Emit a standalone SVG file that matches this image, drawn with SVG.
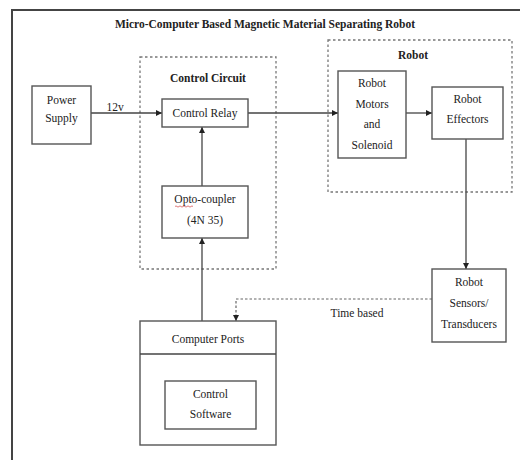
<svg xmlns="http://www.w3.org/2000/svg" width="520" height="460" viewBox="0 0 520 460" font-family="'Liberation Serif', 'Times New Roman', 'DejaVu Serif', serif">
  <style>
    .box { fill: #ffffff; stroke: #555555; stroke-width: 1.4; }
    .group { fill: none; stroke: #777777; stroke-width: 1.3; stroke-dasharray: 2.5 2.5; }
    .wire { fill: none; stroke: #444444; stroke-width: 1.3; }
    .dash { fill: none; stroke: #666666; stroke-width: 1.2; stroke-dasharray: 2.5 2; }
    text { font-family: 'Liberation Serif', 'Times New Roman', 'DejaVu Serif', serif; font-size: 11.5px; fill: #222222; text-anchor: middle; }
    .bold { font-weight: bold; }
  </style>
  <defs>
    <marker id="arrow" viewBox="0 0 10 10" refX="10" refY="5" markerWidth="6" markerHeight="6" orient="auto" markerUnits="userSpaceOnUse">
      <path d="M0,0 L10,5 L0,10 Z" fill="#222222"/>
    </marker>
  </defs>

  <rect width="520" height="460" fill="#ffffff"/>

  <!-- outer frame (top and left edges) -->
  <path d="M12,460 L12,10 L520,10" fill="none" stroke="#444444" stroke-width="2"/>
  <text class="bold" x="265" y="28">Micro-Computer Based Magnetic Material Separating Robot</text>

  <!-- dashed groupings -->
  <g id="control-circuit">
    <rect class="group" x="140" y="57" width="136" height="212"/>
    <text class="bold" x="208" y="82">Control Circuit</text>
  </g>
  <g id="robot">
    <rect class="group" x="328" y="40" width="184" height="152"/>
    <text class="bold" x="413" y="59">Robot</text>
  </g>

  <!-- connectors -->
  <g id="connectors">
    <line class="wire" x1="91" y1="113" x2="162" y2="113" marker-end="url(#arrow)"/>
    <text x="115" y="111">12v</text>
    <line class="wire" x1="248" y1="113" x2="338" y2="113" marker-end="url(#arrow)"/>
    <line class="wire" x1="406" y1="113" x2="432" y2="113" marker-end="url(#arrow)"/>
    <line class="wire" x1="466" y1="139" x2="466" y2="269" marker-end="url(#arrow)"/>
    <line class="wire" x1="202" y1="186" x2="202" y2="127" marker-end="url(#arrow)"/>
    <line class="wire" x1="202" y1="321" x2="202" y2="238" marker-end="url(#arrow)"/>
    <path class="dash" d="M432,299 L236,299 L236,321" marker-end="url(#arrow)"/>
    <text x="357" y="317">Time based</text>
  </g>

  <g id="power-supply">
    <rect class="box" x="32" y="86" width="59" height="58"/>
    <text x="61.5" y="104">Power</text>
    <text x="61.5" y="122">Supply</text>
  </g>

  <g id="control-relay">
    <rect class="box" x="162" y="99" width="86" height="28"/>
    <text x="205" y="117">Control Relay</text>
  </g>

  <g id="opto-coupler">
    <rect class="box" x="162" y="186" width="86" height="52"/>
    <text x="205" y="203">Opto-coupler</text>
    <path d="M175,206.5 q1,-1.2 2,0 t2,0 t2,0 t2,0 t2,0 t2,0 t2,0 t2,0 t2,0" fill="none" stroke="#d04040" stroke-width="0.7"/>
    <text x="205" y="224">(4N 35)</text>
  </g>

  <g id="robot-motors">
    <rect class="box" x="338" y="71" width="68" height="87"/>
    <text x="372" y="87">Robot</text>
    <text x="372" y="108">Motors</text>
    <text x="372" y="128">and</text>
    <text x="372" y="149">Solenoid</text>
  </g>

  <g id="robot-effectors">
    <rect class="box" x="432" y="87" width="71" height="52"/>
    <text x="467.5" y="103">Robot</text>
    <text x="467.5" y="123">Effectors</text>
  </g>

  <g id="robot-sensors">
    <rect class="box" x="432" y="269" width="74" height="73"/>
    <text x="469" y="286">Robot</text>
    <text x="469" y="307">Sensors/</text>
    <text x="469" y="328">Transducers</text>
  </g>

  <g id="computer-ports">
    <rect class="box" x="140" y="321" width="136" height="124"/>
    <line class="wire" x1="140" y1="354" x2="276" y2="354"/>
    <text x="208" y="343">Computer Ports</text>
  </g>

  <g id="control-software">
    <rect class="box" x="165" y="381" width="91" height="48"/>
    <text x="210.5" y="398">Control</text>
    <text x="210.5" y="418">Software</text>
  </g>
</svg>
